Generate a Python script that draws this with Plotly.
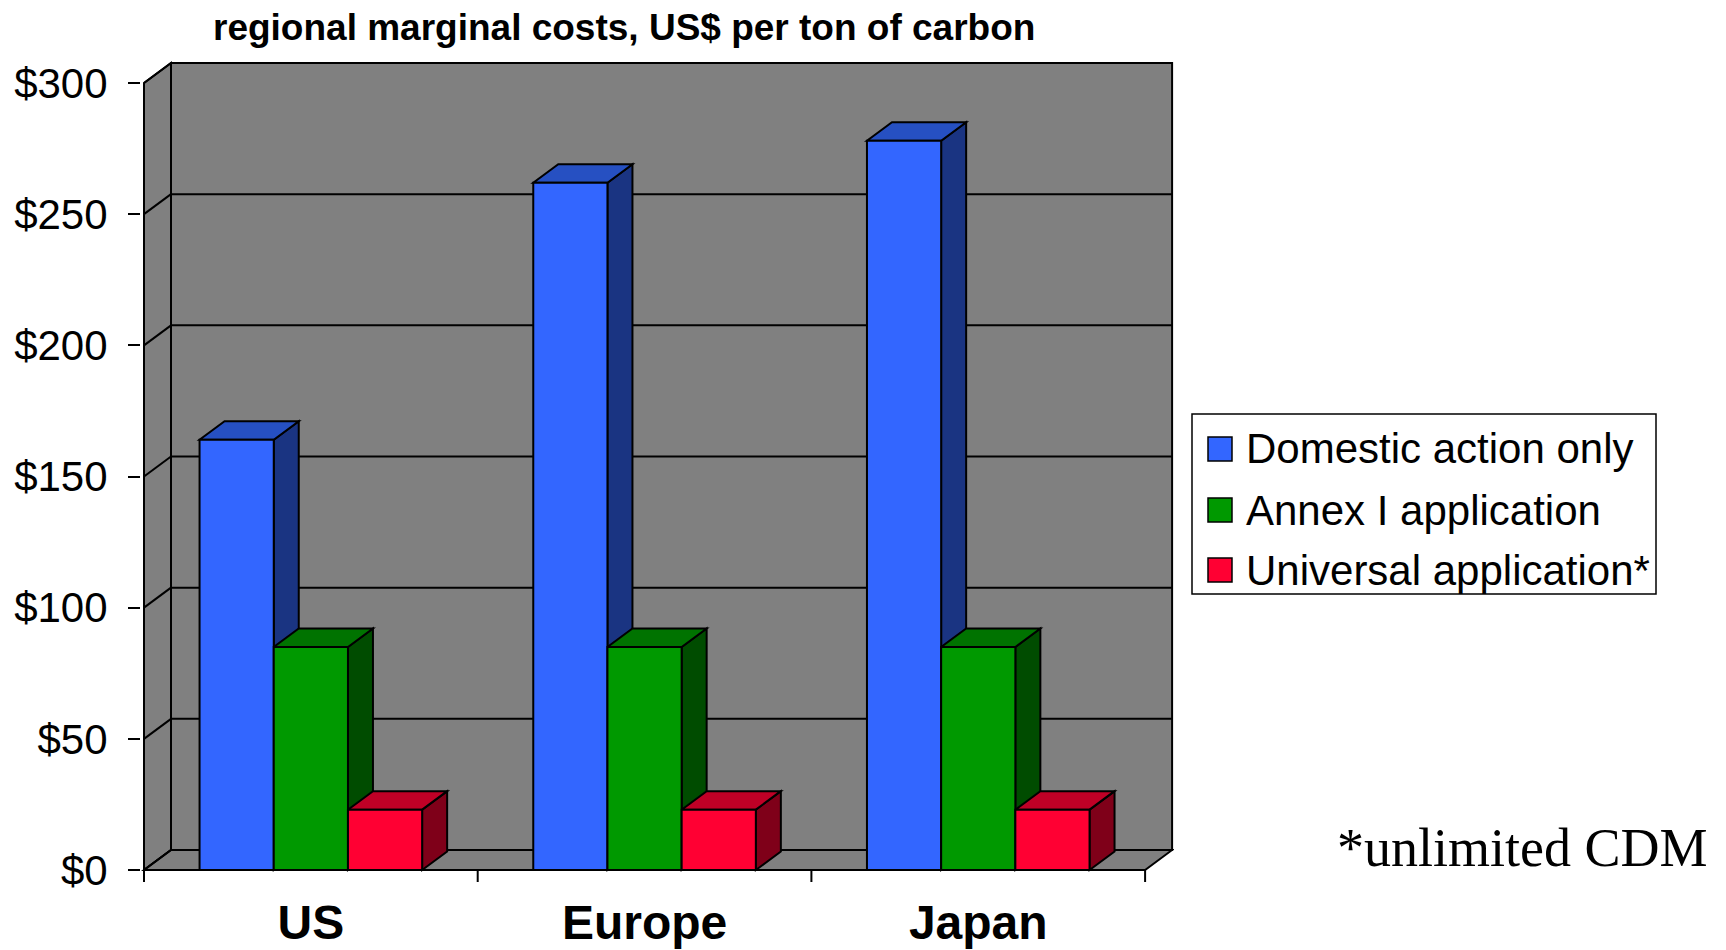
import plotly.graph_objects as go

# ---------------- data ----------------
categories = ["US", "Europe", "Japan"]
series_names = ["Domestic action only", "Annex I application", "Universal application*"]
domestic = [164, 262, 278]
annex_i = [85, 85, 85]
universal = [23, 23, 23]
y_tick_values = [0, 50, 100, 150, 200, 250, 300]
y_tick_labels = ["$0", "$50", "$100", "$150", "$200", "$250", "$300"]
title_text = "regional marginal costs, US$ per ton of carbon"
footnote_text = "*unlimited CDM"

series_values = [domestic, annex_i, universal]
front_colors = ["#3366FF", "#009900", "#FF0033"]
top_colors = ["#2650C2", "#007300", "#BF0026"]
side_colors = ["#1A3482", "#004C00", "#7F0019"]
wall_color = "#808080"

# ---------------- geometry (pixels) ----------------
FIG_W, FIG_H = 1726, 950
FRONT_LEFT = 144          # px of category -0.5 on the front plane
FRONT_BOTTOM = 870        # px of value 0 on the front plane
CAT_PX = 333.7            # px per category
Y_PX = 787 / 300          # px per dollar
PAD = 3                   # pad so edge lines are not clipped
PLOT_RIGHT = 1174
PLOT_TOP = 57

plot_left = FRONT_LEFT - PAD
plot_bottom = FRONT_BOTTOM + PAD
plot_w = PLOT_RIGHT - plot_left
plot_h = plot_bottom - PLOT_TOP

x_min = -0.5 - PAD / CAT_PX
x_max = x_min + plot_w / CAT_PX
y_min = -PAD / Y_PX
y_max = y_min + plot_h / Y_PX

def dxu(px):
    return px / CAT_PX

def dyu(px):
    return px / Y_PX

def px_to_paper_x(px):
    return (px - plot_left) / plot_w

def px_to_paper_y(py):
    return (plot_bottom - py) / plot_h

WDX, WDY = dxu(27), dyu(20)     # wall depth
BDX, BDY = dxu(25), dyu(18.5)   # bar depth
n_cat = len(categories)
n_ser = len(series_values)
group_w = 0.667
bar_w = group_w / n_ser
LINE = dict(color="black", width=2)

fig = go.Figure()

shapes = []
x0w, x1w = -0.5, n_cat - 0.5
top_val = y_tick_values[-1]
# back wall
shapes.append(dict(type="rect", xref="x", yref="y", x0=x0w + WDX, x1=x1w + WDX,
                   y0=WDY, y1=top_val + WDY, fillcolor=wall_color,
                   line=LINE, layer="below"))
# left wall
shapes.append(dict(type="path", xref="x", yref="y",
                   path=f"M {x0w},{0} L {x0w},{top_val} L {x0w + WDX},{top_val + WDY} L {x0w + WDX},{WDY} Z",
                   fillcolor=wall_color, line=LINE, layer="below"))
# floor
shapes.append(dict(type="path", xref="x", yref="y",
                   path=f"M {x0w},{0} L {x1w},{0} L {x1w + WDX},{WDY} L {x0w + WDX},{WDY} Z",
                   fillcolor=wall_color, line=LINE, layer="below"))
# gridlines on back wall and left wall
for v in y_tick_values:
    shapes.append(dict(type="line", xref="x", yref="y", x0=x0w + WDX, x1=x1w + WDX,
                       y0=v + WDY, y1=v + WDY, line=LINE, layer="below"))
    shapes.append(dict(type="line", xref="x", yref="y", x0=x0w, x1=x0w + WDX,
                       y0=v, y1=v + WDY, line=LINE, layer="below"))

# bar side and top faces
for i in range(n_cat):
    for j in range(n_ser):
        v = series_values[j][i]
        xl = i - group_w / 2 + j * bar_w
        xr = xl + bar_w
        shapes.append(dict(type="path", xref="x", yref="y",
                           path=f"M {xr},{0} L {xr + BDX},{BDY} L {xr + BDX},{v + BDY} L {xr},{v} Z",
                           fillcolor=side_colors[j], line=LINE, layer="below"))
        shapes.append(dict(type="path", xref="x", yref="y",
                           path=f"M {xl},{v} L {xr},{v} L {xr + BDX},{v + BDY} L {xl + BDX},{v + BDY} Z",
                           fillcolor=top_colors[j], line=LINE, layer="below"))

# front faces as bars
for j in range(n_ser):
    fig.add_trace(go.Bar(
        x=list(range(n_cat)), y=series_values[j], name=series_names[j],
        width=bar_w, offset=-group_w / 2 + j * bar_w,
        marker=dict(color=front_colors[j], line=dict(color="black", width=2)),
        showlegend=False, hoverinfo="x+y+name",
    ))

# category boundary tick marks
for k in range(n_cat + 1):
    shapes.append(dict(type="line", xref="x", yref="paper",
                       x0=-0.5 + k, x1=-0.5 + k,
                       y0=px_to_paper_y(FRONT_BOTTOM), y1=px_to_paper_y(FRONT_BOTTOM + 12),
                       line=LINE))

# custom legend
LEG_L, LEG_R, LEG_T, LEG_B = 1192, 1656, 414, 594
shapes.append(dict(type="rect", xref="paper", yref="paper",
                   x0=px_to_paper_x(LEG_L), x1=px_to_paper_x(LEG_R),
                   y0=px_to_paper_y(LEG_B), y1=px_to_paper_y(LEG_T),
                   line=dict(color="black", width=1.5), fillcolor="white"))
annotations = []
row_y = [449, 510, 570]
for j in range(n_ser):
    cy = row_y[j]
    shapes.append(dict(type="rect", xref="paper", yref="paper",
                       x0=px_to_paper_x(1208), x1=px_to_paper_x(1232),
                       y0=px_to_paper_y(cy + 12), y1=px_to_paper_y(cy - 12),
                       fillcolor=front_colors[j], line=dict(color="black", width=1.5)))
    annotations.append(dict(xref="paper", yref="paper", x=px_to_paper_x(1244),
                            y=px_to_paper_y(cy), xanchor="left", yanchor="middle",
                            text=series_names[j], showarrow=False,
                            font=dict(family="Liberation Sans", size=42, color="black")))

# title
annotations.append(dict(xref="paper", yref="paper", x=px_to_paper_x(624), y=px_to_paper_y(28),
                        xanchor="center", yanchor="middle", text=f"<b>{title_text}</b>",
                        showarrow=False,
                        font=dict(family="Liberation Sans", size=37, color="black")))
# footnote
annotations.append(dict(xref="paper", yref="paper", x=px_to_paper_x(1710), y=px_to_paper_y(848),
                        xanchor="right", yanchor="middle", text=footnote_text,
                        showarrow=False,
                        font=dict(family="Liberation Serif", size=54, color="black")))

fig.update_layout(
    width=FIG_W, height=FIG_H,
    margin=dict(l=plot_left, r=FIG_W - PLOT_RIGHT, t=PLOT_TOP, b=FIG_H - plot_bottom, pad=0),
    paper_bgcolor="white", plot_bgcolor="white",
    barmode="overlay", showlegend=False,
    shapes=shapes, annotations=annotations,
    xaxis=dict(range=[x_min, x_max], tickvals=list(range(n_cat)), ticktext=[f"<b>{c}</b>" for c in categories],
               ticks="", showgrid=False, zeroline=False, showline=False, automargin=False,
               tickfont=dict(family="Liberation Sans", size=48, color="black"),
               ticklabelstandoff=17, fixedrange=True),
    yaxis=dict(range=[y_min, y_max], tickvals=y_tick_values, ticktext=y_tick_labels,
               ticks="outside", ticklen=12, tickwidth=2, tickcolor="black", automargin=False,
               showgrid=False, zeroline=False, showline=False,
               tickfont=dict(family="Liberation Sans", size=42, color="black"),
               ticklabelstandoff=12, fixedrange=True),
    font=dict(family="Liberation Sans", color="black"),
)

fig.write_html("out.html")
